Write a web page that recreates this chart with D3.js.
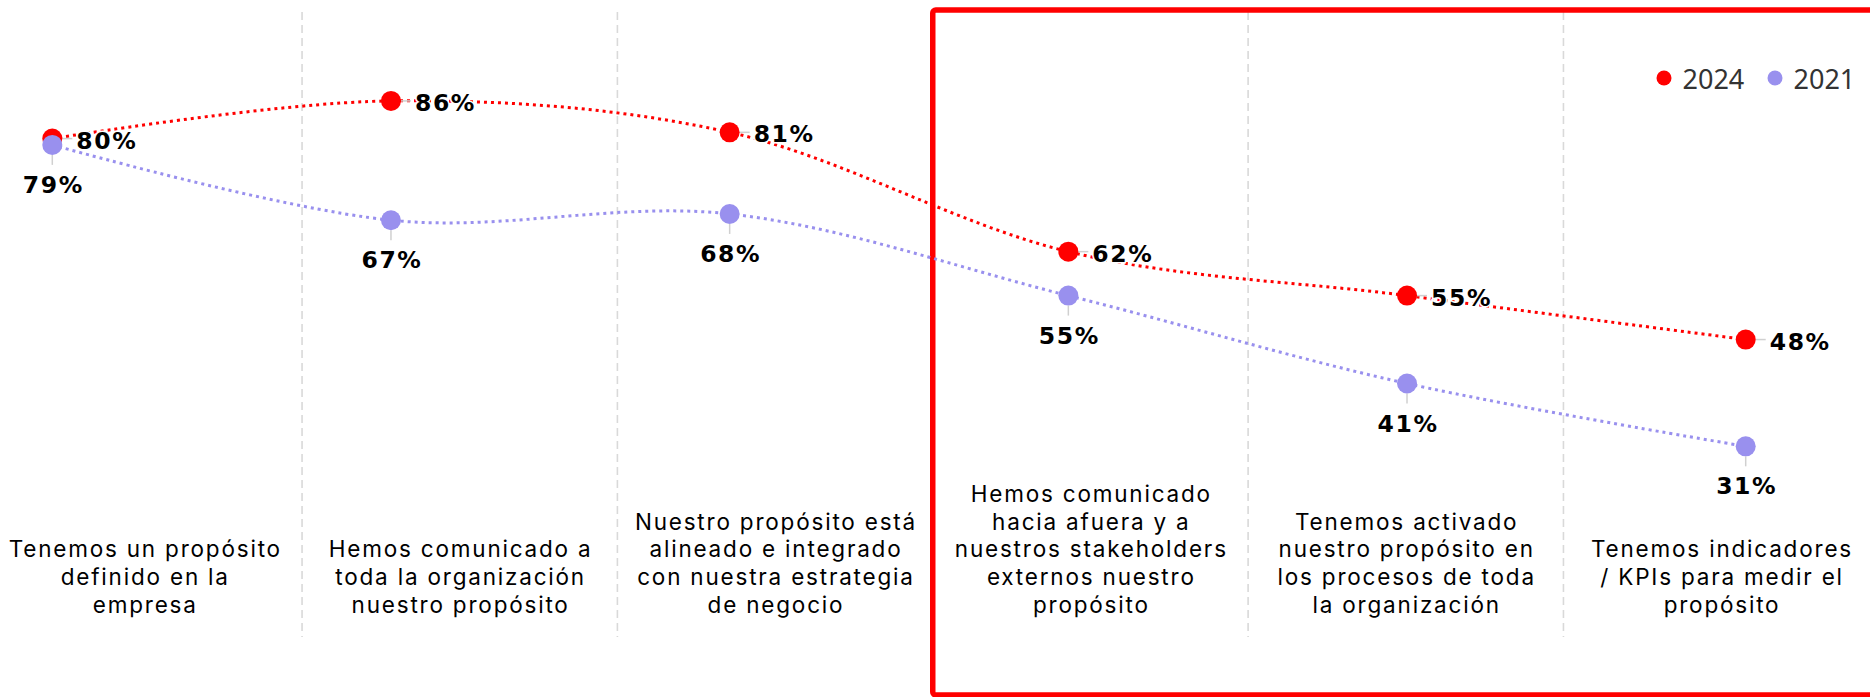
<!DOCTYPE html>
<html>
<head>
<meta charset="utf-8">
<script src="https://cdn.jsdelivr.net/npm/d3@7"></script>
<style>
  body { margin: 0; background: #fff; }
</style>
</head>
<body>
<div id="chart"></div>
<script>
// Data
const categories = [
  "Tenemos un propósito definido en la empresa",
  "Hemos comunicado a toda la organización nuestro propósito",
  "Nuestro propósito está alineado e integrado con nuestra estrategia de negocio",
  "Hemos comunicado hacia afuera y a nuestros stakeholders externos nuestro propósito",
  "Tenemos activado nuestro propósito en los procesos de toda la organización",
  "Tenemos indicadores / KPIs para medir el propósito"
]
const categoryLines = [
  ["Tenemos un propósito", "definido en la", "empresa"],
  ["Hemos comunicado a", "toda la organización", "nuestro propósito"],
  ["Nuestro propósito está", "alineado e integrado", "con nuestra estrategia", "de negocio"],
  ["Hemos comunicado", "hacia afuera y a", "nuestros stakeholders", "externos nuestro", "propósito"],
  ["Tenemos activado", "nuestro propósito en", "los procesos de toda", "la organización"],
  ["Tenemos indicadores", "/ KPIs para medir el", "propósito"]
]
const seriesNames = ["2024", "2021"]
const values2024 = [80, 86, 81, 62, 55, 48]
const values2021 = [79, 67, 68, 55, 41, 31]

// Initialize
var width = 1870
var height = 697
const red = "#ff0000"
const blue = "#9990ee"

const svg = d3.select("#chart").append("svg")
  .attr("width", width)
  .attr("height", height)

// Scales
const x = d3.scalePoint().domain(categories).range([52.3, 1745.7])
const band = d3.scaleBand().domain(categories).range([-13.3, 1878.8])
const y = d3.scaleLinear().domain([0, 100]).range([641, 13])

// Dashed separators between categories
svg.append("g")
  .selectAll("line")
  .data(categories.slice(1))
  .enter()
  .append("line")
  .attr("x1", d => band(d))
  .attr("x2", d => band(d))
  .attr("y1", 12)
  .attr("y2", 637)
  .attr("stroke", "#d9d9d9")
  .attr("stroke-width", 1.6)
  .attr("stroke-dasharray", "8,5")

// Category labels, bottom aligned
const catG = svg.append("g")
  .selectAll("text")
  .data(categories)
  .enter()
  .append("text")
  .attr("text-anchor", "middle")
  .attr("font-family", "Inter, 'Noto Sans', sans-serif")
  .attr("font-size", 22.5)
  .attr("letter-spacing", 1.8)
  .attr("fill", "#000")

catG.each(function(d, i) {
  const lines = categoryLines[i]
  const cx = band(d) + band.bandwidth() / 2
  d3.select(this).selectAll("tspan")
    .data(lines)
    .enter()
    .append("tspan")
    .attr("x", cx + 0.9)
    .attr("y", (l, j) => 613 - (lines.length - 1 - j) * 27.8)
    .text(l => l)
})

// Red highlight box
svg.append("rect")
  .attr("x", band(categories[3]))
  .attr("y", 10)
  .attr("width", 1000)
  .attr("height", 685)
  .attr("rx", 3)
  .attr("fill", "none")
  .attr("stroke", red)
  .attr("stroke-width", 5.5)

// Lines
const line = d3.line()
  .x((d, i) => x(categories[i]))
  .y(d => y(d))
  .curve(d3.curveCardinal.tension(0))

const series = [
  { name: seriesNames[0], values: values2024, color: red },
  { name: seriesNames[1], values: values2021, color: blue }
]

series.forEach(s => {
  svg.append("path")
    .datum(s.values)
    .attr("d", line)
    .attr("fill", "none")
    .attr("stroke", s.color)
    .attr("stroke-width", 3)
    .attr("stroke-dasharray", "3,4")
})

// Leader lines
svg.append("g")
  .selectAll("line")
  .data(values2024)
  .enter()
  .append("line")
  .attr("x1", (d, i) => x(categories[i]) + 10)
  .attr("x2", (d, i) => x(categories[i]) + 20)
  .attr("y1", d => y(d))
  .attr("y2", d => y(d))
  .attr("stroke", "#d0d0d0")
  .attr("stroke-width", 1.5)

svg.append("g")
  .selectAll("line")
  .data(values2021)
  .enter()
  .append("line")
  .attr("x1", (d, i) => x(categories[i]))
  .attr("x2", (d, i) => x(categories[i]))
  .attr("y1", d => y(d) + 10)
  .attr("y2", d => y(d) + 20)
  .attr("stroke", "#d0d0d0")
  .attr("stroke-width", 1.5)

// Points
series.forEach(s => {
  svg.append("g")
    .selectAll("circle")
    .data(s.values)
    .enter()
    .append("circle")
    .attr("cx", (d, i) => x(categories[i]))
    .attr("cy", d => y(d))
    .attr("r", 10)
    .attr("fill", s.color)
})

// Value labels
const labelStyle = sel => sel
  .attr("font-family", "'DejaVu Sans', Verdana, sans-serif")
  .attr("font-weight", "bold")
  .attr("font-size", 23.5)
  .attr("letter-spacing", 1.6)
  .attr("fill", "#000")
  .attr("stroke", "#fff")
  .attr("stroke-width", 3)
  .attr("paint-order", "stroke")
  .attr("dominant-baseline", "central")

svg.append("g")
  .selectAll("text")
  .data(values2024)
  .enter()
  .append("text")
  .call(labelStyle)
  .attr("x", (d, i) => x(categories[i]) + 24)
  .attr("y", d => y(d) + 2)
  .text(d => d + "%")

svg.append("g")
  .selectAll("text")
  .data(values2021)
  .enter()
  .append("text")
  .call(labelStyle)
  .attr("text-anchor", "middle")
  .attr("x", (d, i) => x(categories[i]) + 1)
  .attr("y", d => y(d) + 40)
  .text(d => d + "%")

// Legend
const legend = svg.append("g")
  .attr("transform", "translate(1664,78)")

const item = legend.selectAll("g")
  .data(series)
  .enter()
  .append("g")
  .attr("transform", (d, i) => "translate(" + (i * 111) + ",0)")

item.append("circle")
  .attr("r", 7.5)
  .attr("fill", d => d.color)

item.append("text")
  .attr("x", 18.5)
  .attr("y", 11)
  .attr("font-family", "'Noto Sans', sans-serif")
  .attr("font-size", 27)
  .attr("fill", "#333")
  .text(d => d.name)
</script>
</body>
</html>
